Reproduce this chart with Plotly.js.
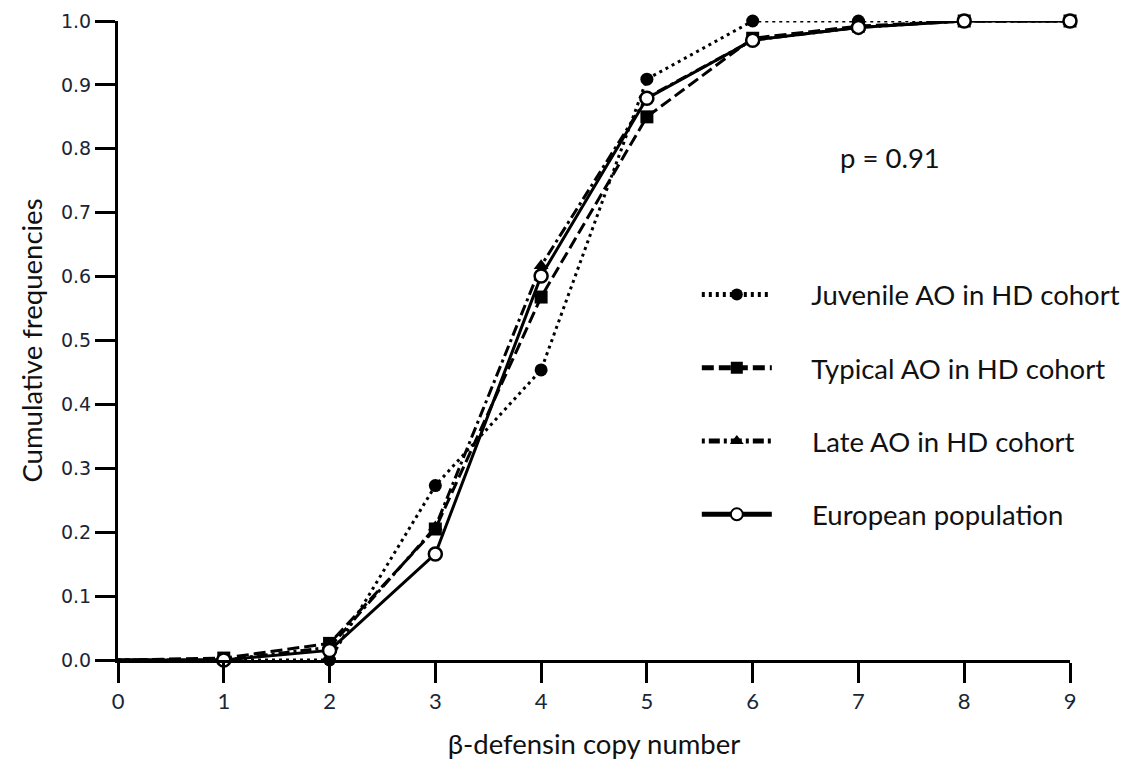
<!DOCTYPE html>
<html>
<head>
<meta charset="utf-8">
<script src="https://cdn.plot.ly/plotly-3.0.1.min.js"></script>
<style>html,body{margin:0;padding:0;background:#fff;}#chart{width:1132px;height:765px;}</style>
</head>
<body>
<div id="chart"></div>
<script>
var copyNumber = [0, 1, 2, 3, 4, 5, 6, 7, 8, 9];
var juvenile = [0, 0, 0, 0.273, 0.454, 0.909, 1.0, 1.0, 1.0, 1.0];
var typical = [0, 0.003, 0.026, 0.205, 0.568, 0.85, 0.973, 0.992, 1.0, 1.0];
var late = [0, 0, 0.02, 0.208, 0.617, 0.88, 0.97, 0.99, 1.0, 1.0];
var european = [0, 0, 0.015, 0.166, 0.601, 0.879, 0.97, 0.99, 1.0, 1.0];
var seriesNames = ['Juvenile AO in HD cohort', 'Typical AO in HD cohort', 'Late AO in HD cohort', 'European population'];
var yTicks = [0, 0.1, 0.2, 0.3, 0.4, 0.5, 0.6, 0.7, 0.8, 0.9, 1.0];
var yTickText = ['0.0', '0.1', '0.2', '0.3', '0.4', '0.5', '0.6', '0.7', '0.8', '0.9', '1.0'];
var xTicks = [0, 1, 2, 3, 4, 5, 6, 7, 8, 9];

var FONT = 'Lato, Open Sans, sans-serif';
var TICKFONT = 'DejaVu Sans, Verdana, sans-serif';
var sizes = copyNumber.map(function (x, i) { return i === 0 ? 0 : 13; });
var PAD = '\u00A0\u00A0\u00A0\u00A0\u00A0';

function tr(y, name, dash, symbol, fill, grp) {
  return {
    x: copyNumber, y: y, name: PAD + name, type: 'scatter', mode: 'lines+markers',
    line: {color: '#000', width: 3, dash: dash},
    marker: {symbol: symbol, size: sizes, opacity: 1, color: fill, line: {color: '#000', width: fill === '#fff' ? 2.5 : 0}},
    cliponaxis: false, legendgroup: grp
  };
}
var data = [
  tr(juvenile, seriesNames[0], '3px,4px', 'circle', '#000', 'a'),
  tr(typical, seriesNames[1], '12px,5px', 'square', '#000', 'b'),
  tr(late, seriesNames[2], '3px,4px,11px,4px', 'triangle-up', '#000', 'c'),
  tr(european, seriesNames[3], 'solid', 'circle', '#fff', 'd')
];

var layout = {
  width: 1132, height: 765,
  margin: {l: 118, r: 62, t: 21, b: 105, autoexpand: false},
  paper_bgcolor: '#fff', plot_bgcolor: '#fff',
  font: {family: FONT, color: '#000', size: 18},
  showlegend: true,
  legend: {x: 0.608, y: 0.61, xanchor: 'left', yanchor: 'top', font: {size: 27.5, family: FONT, color: '#111'},
    itemwidth: 70, tracegroupgap: 34.5, bgcolor: 'rgba(0,0,0,0)', itemsizing: 'constant'},
  xaxis: {
    range: [0, 9], tickvals: xTicks, ticks: 'outside', ticklen: 20, tickwidth: 3, tickcolor: '#000',
    showline: true, linewidth: 3, linecolor: '#000', showgrid: false, zeroline: false,
    tickfont: {size: 22, family: FONT, color: '#1a2535'},
    title: {text: 'β-defensin copy number', font: {size: 27.5, family: FONT, color: '#111'}, standoff: 22}
  },
  yaxis: {
    range: [0, 1], tickvals: yTicks, ticktext: yTickText, ticks: 'outside', ticklen: 20, tickwidth: 3, tickcolor: '#000',
    showline: true, linewidth: 3, linecolor: '#000', showgrid: false, zeroline: false,
    tickfont: {size: 19, family: TICKFONT, color: '#1a2535'},
    title: {text: 'Cumulative frequencies', font: {size: 27.5, family: FONT, color: '#111'}, standoff: 11}
  },
  annotations: [{x: 7.3, y: 0.787, xref: 'x', yref: 'y', text: 'p = 0.91', showarrow: false,
    font: {size: 27.5, family: FONT, color: '#111'}}]
};
Plotly.newPlot('chart', data, layout, {displayModeBar: false, staticPlot: true});
</script>
</body>
</html>
